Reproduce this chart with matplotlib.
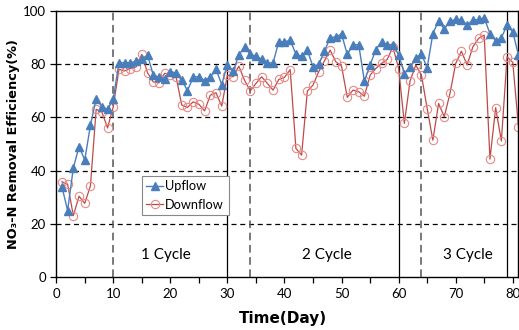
import matplotlib

matplotlib.use("Agg")
import matplotlib.pyplot as plt

# ---- data (one point per day) ----
days = list(range(1, 82))

upflow = [
    34, 25, 41, 49, 44, 57, 67, 64, 63, 67,
    80.5, 80.5, 80.5, 81, 82, 83.3, 76, 75, 74.5, 77,
    76.7, 74, 70, 75, 75.3, 73.7, 75, 78, 72.3, 79.7,
    77.2, 83.4, 86.4, 83.6, 83, 81.8, 80.4, 80.4, 88.4, 88.3,
    88.9, 83.7, 82.9, 85.2, 78.9, 79.9, 84.8, 89.9, 90.2, 91.2,
    83.6, 87.1, 87.3, 73.6, 79.6, 85.4, 88.3, 87.3, 87.1, 83.5,
    76.4, 78.9, 82.1, 83.7, 78.6, 91.4, 96.2, 93.1, 96.2, 96.7,
    96.6, 94.6, 96.5, 96.7, 97.3, 91.4, 88.7, 89.8, 94.6, 92.1,
    83.3,
]

downflow = [
    35.8, 34.9, 23.1, 30.4, 27.7, 34.3, 63, 62, 56, 64,
    78, 77.4, 78.3, 78.9, 83.6, 76.7, 73.3, 72.9, 76.5, 76,
    75.2, 64.6, 63.7, 65.8, 64.9, 62.4, 68.3, 69.2, 64.2, 75.8,
    75.2, 79.2, 73.9, 69.9, 72.7, 75.2, 72.7, 70.2, 74.2, 75,
    77.9, 48.3, 45.8, 69.8, 72.1, 77.1, 81.2, 85.2, 80.8, 79.2,
    67.5, 70.2, 69.6, 67.9, 75.8, 78.3, 80.2, 81.7, 86.4, 78.3,
    57.7, 73.6, 79.6, 75.8, 63.3, 51.4, 65.2, 60.2, 69, 80.2,
    84.8, 79.6, 86.4, 89.6, 90.8, 44.3, 63.6, 51.1, 82.7, 80.6,
    56.4,
]

dashed_days = [10, 34, 64]
solid_days = [30, 60, 79]
cycle_labels = ["1 Cycle", "2 Cycle", "3 Cycle"]
cycle_x = [19.3, 47.5, 72.2]

BLUE = "#4a7ebb"
RED = "#be4b48"
RED_MK = "#e88a88"


def main():
    fig = plt.figure(figsize=(5.19, 3.30), dpi=100)
    ax = fig.add_axes([0.1083, 0.16, 0.8907, 0.8076])

    for y in [20, 40, 60, 80]:
        ax.axhline(y, color="black", ls=(0, (4, 3)), lw=0.9, zorder=1)
    for d in dashed_days:
        ax.axvline(d, color="#555555", ls=(0, (5, 3)), lw=1.1, zorder=1)
    for d in solid_days:
        ax.axvline(d, color="black", lw=0.9, zorder=1)

    ax.plot(days, upflow, color=BLUE, lw=1.0, marker="^", ms=5.5,
            mfc=BLUE, mec=BLUE, label="Upflow", zorder=3)
    ax.plot(days, downflow, color=RED, lw=0.9, marker="o", ms=6,
            mfc="none", mec=RED_MK, mew=0.8, label="Downflow", zorder=2)

    for x, s in zip(cycle_x, cycle_labels):
        ax.text(x, 8.3, s, ha="center", va="center", fontsize=11,
                family="Lato")

    ax.set_xlim(0, 81.0)
    ax.set_ylim(0, 100)
    ax.set_xticks(range(0, 81, 10))
    ax.set_xticks(range(0, 81, 5), minor=True)
    ax.set_yticks(range(0, 101, 20))
    ax.tick_params(axis="both", direction="out", labelsize=9.5, length=4,
                   width=0.9)
    ax.tick_params(axis="x", which="minor", direction="out", length=4,
                   width=0.9)
    for lbl in ax.get_xticklabels() + ax.get_yticklabels():
        lbl.set_family("Lato")
    for sp in ax.spines.values():
        sp.set_color("black")
        sp.set_linewidth(1.0)

    ax.set_xlabel("Time(Day)", fontsize=11, fontweight="bold")
    ax.xaxis.set_label_coords(0.49, -0.125)
    ax.set_ylabel("NO₃-N Removal Efficiency(%)", fontsize=9.3,
                  fontweight="bold")
    ax.yaxis.set_label_coords(-0.078, 0.5)

    leg = ax.legend(loc="upper left", bbox_to_anchor=(0.185, 0.381),
                    borderaxespad=0, handlelength=1.3, handletextpad=0.2,
                    borderpad=0.35, labelspacing=0.5, fancybox=False,
                    framealpha=1, edgecolor="#888888",
                    prop={"family": "Lato", "size": 9.2})
    leg.get_frame().set_linewidth(0.8)

    fig.savefig("out.png", dpi=100)


if __name__ == "__main__":
    main()
